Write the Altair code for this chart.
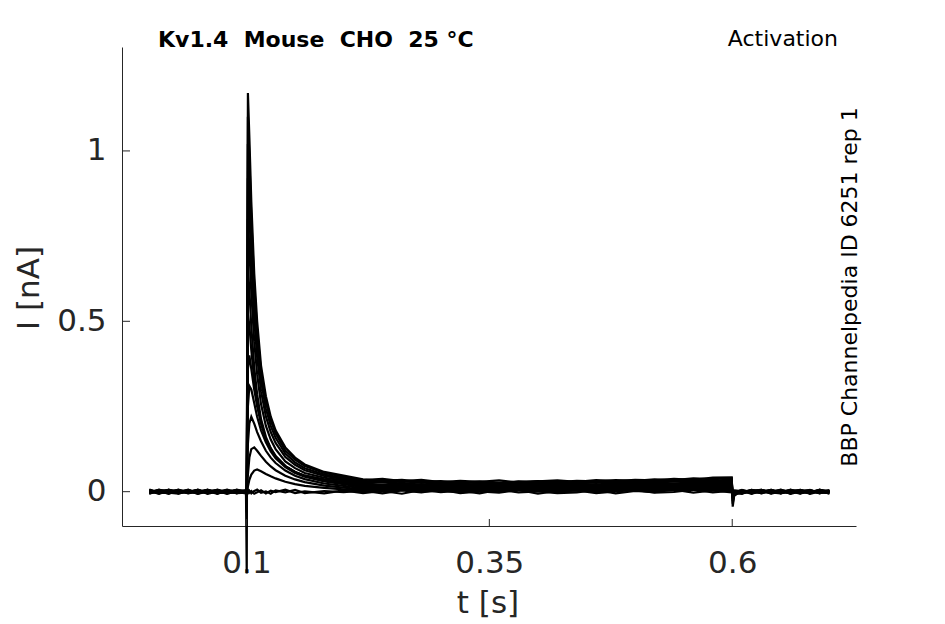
import altair as alt
import pandas as pd

# time samples [s]
T = [0.0, 0.01, 0.02, 0.03, 0.04, 0.05, 0.06, 0.07, 0.08, 0.09, 0.0995,
     0.1003,
     0.1015, 0.103, 0.105, 0.108, 0.111, 0.115, 0.12, 0.125, 0.13, 0.14, 0.15, 0.16, 0.18, 0.2,
     0.22, 0.24, 0.26, 0.28, 0.3, 0.32, 0.34, 0.36, 0.38, 0.4, 0.42, 0.44, 0.46, 0.48, 0.5, 0.52, 0.54, 0.56, 0.58,
     0.5995, 0.6005, 0.602,
     0.61, 0.62, 0.63, 0.64, 0.65, 0.66, 0.67, 0.68, 0.69, 0.7]

# current sweeps [nA]
S1 = [.003, -.004, .005, -.002, .006, -.005, .002, -.006, .004, -.003, .001,
      -.24,
      1.17, 1.04, .85, .64, .50, .37, .28, .22, .18, .13, .10, .08, .058, .047,
      .036, .032, .035, .029, .031, .027, .030, .026, .029, .031, .028, .032, .030, .034, .032, .036, .034, .039, .037,
      .040, -.044, -.012,
      .004, -.003, .005, -.004, .002, -.005, .004, -.002, .005, -.003]
S2 = [-.002, .004, -.005, .003, -.001, .005, -.004, .003, -.006, .002, -.002,
      -.02,
      1.10, .98, .80, .605, .473, .352, .264, .209, .171, .121, .094, .075, .055, .044,
      .034, .038, .031, .035, .028, .032, .029, .033, .027, .030, .033, .029, .034, .031, .035, .033, .038, .035, .041,
      .042, -.035, -.008,
      -.003, .005, -.002, .004, -.005, .003, -.001, .005, -.004, .002]
S3 = [.005, -.003, .002, -.005, .004, -.001, .006, -.004, .002, .004, -.004,
      -.06,
      1.02, .907, .744, .560, .438, .326, .244, .193, .158, .112, .086, .069, .050, .040,
      .030, .027, .032, .026, .029, .024, .028, .025, .030, .027, .024, .029, .026, .031, .028, .032, .030, .034, .032,
      .036, -.028, -.006,
      .002, -.005, .004, -.001, .006, -.003, .002, -.004, .003, .001]
S4 = [-.004, .002, -.006, .004, -.003, .006, -.002, .005, -.004, .001, .003,
      .01,
      .92, .819, .672, .506, .396, .295, .221, .175, .143, .102, .079, .063, .046, .037,
      .026, .029, .024, .027, .022, .025, .028, .023, .026, .022, .027, .024, .028, .025, .029, .026, .030, .028, .031,
      .032, -.022, -.004,
      -.005, .003, -.002, .005, -.004, .001, -.006, .003, -.001, .004]
S5 = [.002, -.006, .004, .001, -.004, .003, -.005, .006, -.001, -.004, .002,
      -.03,
      .80, .713, .585, .441, .345, .257, .193, .153, .125, .089, .069, .055, .041, .033,
      .024, .021, .026, .020, .023, .019, .024, .021, .025, .022, .019, .024, .021, .026, .023, .027, .024, .028, .026,
      .029, -.018, -.003,
      .005, -.002, .003, -.006, .001, .004, -.003, .002, -.005, .003]
S6 = [-.001, .005, -.003, -.006, .002, -.002, .004, -.003, .005, -.005, .004,
      .02,
      .66, .590, .484, .365, .286, .213, .161, .128, .105, .075, .058, .047, .035, .029,
      .022, .018, .021, .017, .020, .016, .021, .018, .022, .019, .017, .021, .018, .022, .020, .023, .021, .025, .022,
      .024, -.014, -.002,
      -.002, .004, -.005, .002, .003, -.004, .005, -.002, .001, -.005]
S7 = [.004, -.001, .003, -.004, .005, -.006, .001, .002, -.003, .005, -.001,
      -.01,
      .52, .488, .415, .327, .264, .202, .155, .124, .103, .075, .058, .047, .036, .028,
      .019, .016, .020, .015, .018, .014, .019, .016, .020, .017, .015, .019, .016, .020, .018, .021, .019, .022, .020,
      .021, -.010, .000,
      .003, -.004, .001, .005, -.003, .002, -.005, .004, -.002, .002]
S8 = [-.005, .003, .001, .005, -.002, .004, -.004, -.001, .006, -.002, .002,
      .00,
      .36, .40, .36, .30, .25, .20, .155, .125, .103, .075, .058, .046, .032, .025,
      .016, .013, .017, .012, .015, .011, .016, .013, .017, .014, .012, .016, .013, .017, .015, .018, .016, .019, .017,
      .018, -.008, .001,
      -.004, .002, .005, -.003, .001, -.005, .003, .004, -.002, -.004]
S9 = [.001, -.005, .006, -.002, .003, -.004, .005, -.005, .002, .003, -.003,
      .005,
      .25, .31, .30, .26, .22, .18, .145, .118, .098, .072, .055, .044, .030, .022,
      .013, .010, .014, .009, .012, .008, .013, .010, .014, .011, .009, .013, .010, .014, .012, .015, .013, .016, .014,
      .015, -.006, .002,
      .001, -.003, .004, -.005, .005, -.001, .002, -.004, .006, -.002]
S10 = [-.003, .006, -.001, .003, -.005, .001, .003, -.002, -.004, .006, .000,
       -.005,
       .14, .20, .22, .20, .175, .148, .12, .10, .084, .062, .047, .037, .024, .017,
       .010, .007, .011, .006, .009, .005, .010, .007, .011, .008, .006, .010, .007, .011, .009, .012, .010, .013, .011,
       .012, -.004, .000,
       -.006, .004, -.001, .003, -.002, .005, -.004, .001, .003, -.005]
S11 = [.006, -.002, -.004, .002, .004, -.003, -.001, .004, -.005, .000, .003,
       .00,
       .05, .10, .125, .13, .12, .105, .088, .074, .063, .047, .036, .028, .018, .012,
       .007, .004, .008, .003, .006, .002, .007, .004, .008, .005, .003, .007, .004, .008, .006, .009, .007, .010, .008,
       .009, -.003, -.001,
       .004, -.001, -.004, .005, -.002, .001, .005, -.005, .002, .004]
S12 = [-.002, .001, .005, -.005, .000, .005, -.006, .001, .003, -.004, -.003,
       -.01,
       .015, .035, .05, .062, .065, .06, .052, .045, .039, .029, .022, .017, .011, .007,
       .004, .001, .005, .000, .003, -.001, .004, .001, .005, .002, .000, .004, .001, .005, .003, .006, .004, .007, .005,
       .006, -.002, .001,
       -.001, .005, -.003, .000, .004, -.006, .001, .003, -.004, .002]
S13 = [.004, -.004, -.002, .006, -.003, -.001, .005, -.005, .001, .002, .004,
       .008,
       -.004, .003, -.005, .002, .006, -.003, .001, -.006, .004, -.002, .005, -.004, .002, -.001,
       .003, -.005, .004, -.002, .006, -.004, .001, -.003, .005, -.006, .002, .004, -.004, .001, .005, -.003, -.001, .006, -.002,
       .003, -.005, .004,
       .002, -.006, .003, .001, -.004, .006, -.002, -.003, .005, .000]
S14 = [-.006, .003, .004, -.003, .001, -.006, .003, .004, -.002, -.001, -.005,
       -.012,
       .005, -.003, .002, -.006, -.002, .004, -.005, .003, -.001, .006, -.004, .001, -.005, .004,
       -.004, .002, -.006, .005, -.001, .003, -.005, .006, -.002, .001, -.004, -.002, .005, -.005, .002, -.001, .006, -.003, .004,
       -.002, -.008, -.003,
       -.004, .003, .005, -.002, -.005, .003, .004, -.006, .001, -.003]

SWEEPS = [S1, S2, S3, S4, S5, S6, S7, S8, S9, S10, S11, S12, S13, S14]

X_TICKS = [0.1, 0.35, 0.6]
Y_TICKS = [0, 0.5, 1]

TITLE = "Kv1.4\u00a0 Mouse\u00a0 CHO\u00a0 25 °C"
PROTOCOL = "Activation"
SIDE = "BBP Channelpedia ID 6251 rep 1"
XLABEL = "t [s]"
YLABEL = "I [nA]"

rows = []
for k, s in enumerate(SWEEPS):
    for t, v in zip(T, s):
        rows.append({"t": t, "I": v, "sweep": k})
df = pd.DataFrame(rows)

W, H = 734, 479
FONT = "DejaVu Sans"
GREY = "#262626"

xscale = alt.Scale(domain=[-0.0281, 0.7274], nice=False, zero=False)
yscale = alt.Scale(domain=[-0.1007, 1.305], nice=False, zero=False)

xaxis = alt.Axis(values=X_TICKS, title=None, ticks=False, tickSize=0, grid=False,
                 labelFontSize=31, labelColor=GREY, labelFont=FONT, labelPadding=22,
                 domainColor=GREY, domainWidth=1, labelExpr="'' + datum.value",
                 labelFlush=False)
yaxis = alt.Axis(values=Y_TICKS, title=None, ticks=False, tickSize=0, grid=False,
                 labelFontSize=31, labelColor=GREY, labelFont=FONT, labelPadding=16,
                 domainColor=GREY, domainWidth=1, labelExpr="'' + datum.value",
                 labelFlush=False)

lines = alt.Chart(df).mark_line(color="black", strokeWidth=2.2, clip=False).encode(
    x=alt.X("t:Q", scale=xscale, axis=xaxis),
    y=alt.Y("I:Q", scale=yscale, axis=yaxis),
    detail="sweep:N",
)

xt = alt.Chart(pd.DataFrame({"t": X_TICKS})).mark_rule(color=GREY, strokeWidth=1).encode(
    x=alt.X("t:Q", scale=xscale, axis=xaxis), y=alt.value(H), y2=alt.value(H - 7))
yt = alt.Chart(pd.DataFrame({"I": Y_TICKS})).mark_rule(color=GREY, strokeWidth=1).encode(
    y=alt.Y("I:Q", scale=yscale, axis=yaxis), x=alt.value(0), x2=alt.value(8))

one = pd.DataFrame({"a": [0]})
title = alt.Chart(one).mark_text(text=TITLE, font=FONT, fontSize=22, fontWeight="bold",
                                 color="black", align="left", baseline="alphabetic").encode(
    x=alt.value(36), y=alt.value(-0.5))
proto = alt.Chart(one).mark_text(text=PROTOCOL, font=FONT, fontSize=22, color="black",
                                 align="right", baseline="alphabetic").encode(
    x=alt.value(716), y=alt.value(-1))
side = alt.Chart(one).mark_text(text=SIDE, font=FONT, fontSize=22, color="black", angle=270,
                                align="center", baseline="alphabetic").encode(
    x=alt.value(735), y=alt.value(240))
xlab = alt.Chart(one).mark_text(text=XLABEL, font=FONT, fontSize=31, color=GREY,
                                align="center", baseline="alphabetic").encode(
    x=alt.value(366), y=alt.value(566))
ylab = alt.Chart(one).mark_text(text=YLABEL, font=FONT, fontSize=31, color=GREY, angle=270,
                                align="center", baseline="alphabetic").encode(
    x=alt.value(-83.5), y=alt.value(241))

chart = alt.layer(lines, xt, yt, title, proto, side, xlab, ylab).properties(
    width=W, height=H,
    autosize=alt.AutoSizeParams(type="none"),
    padding={"left": 114, "top": 39, "right": 60, "bottom": 95},
).configure_view(stroke=None)

chart.save("out.html", embed_options={"renderer": "svg", "actions": False})
